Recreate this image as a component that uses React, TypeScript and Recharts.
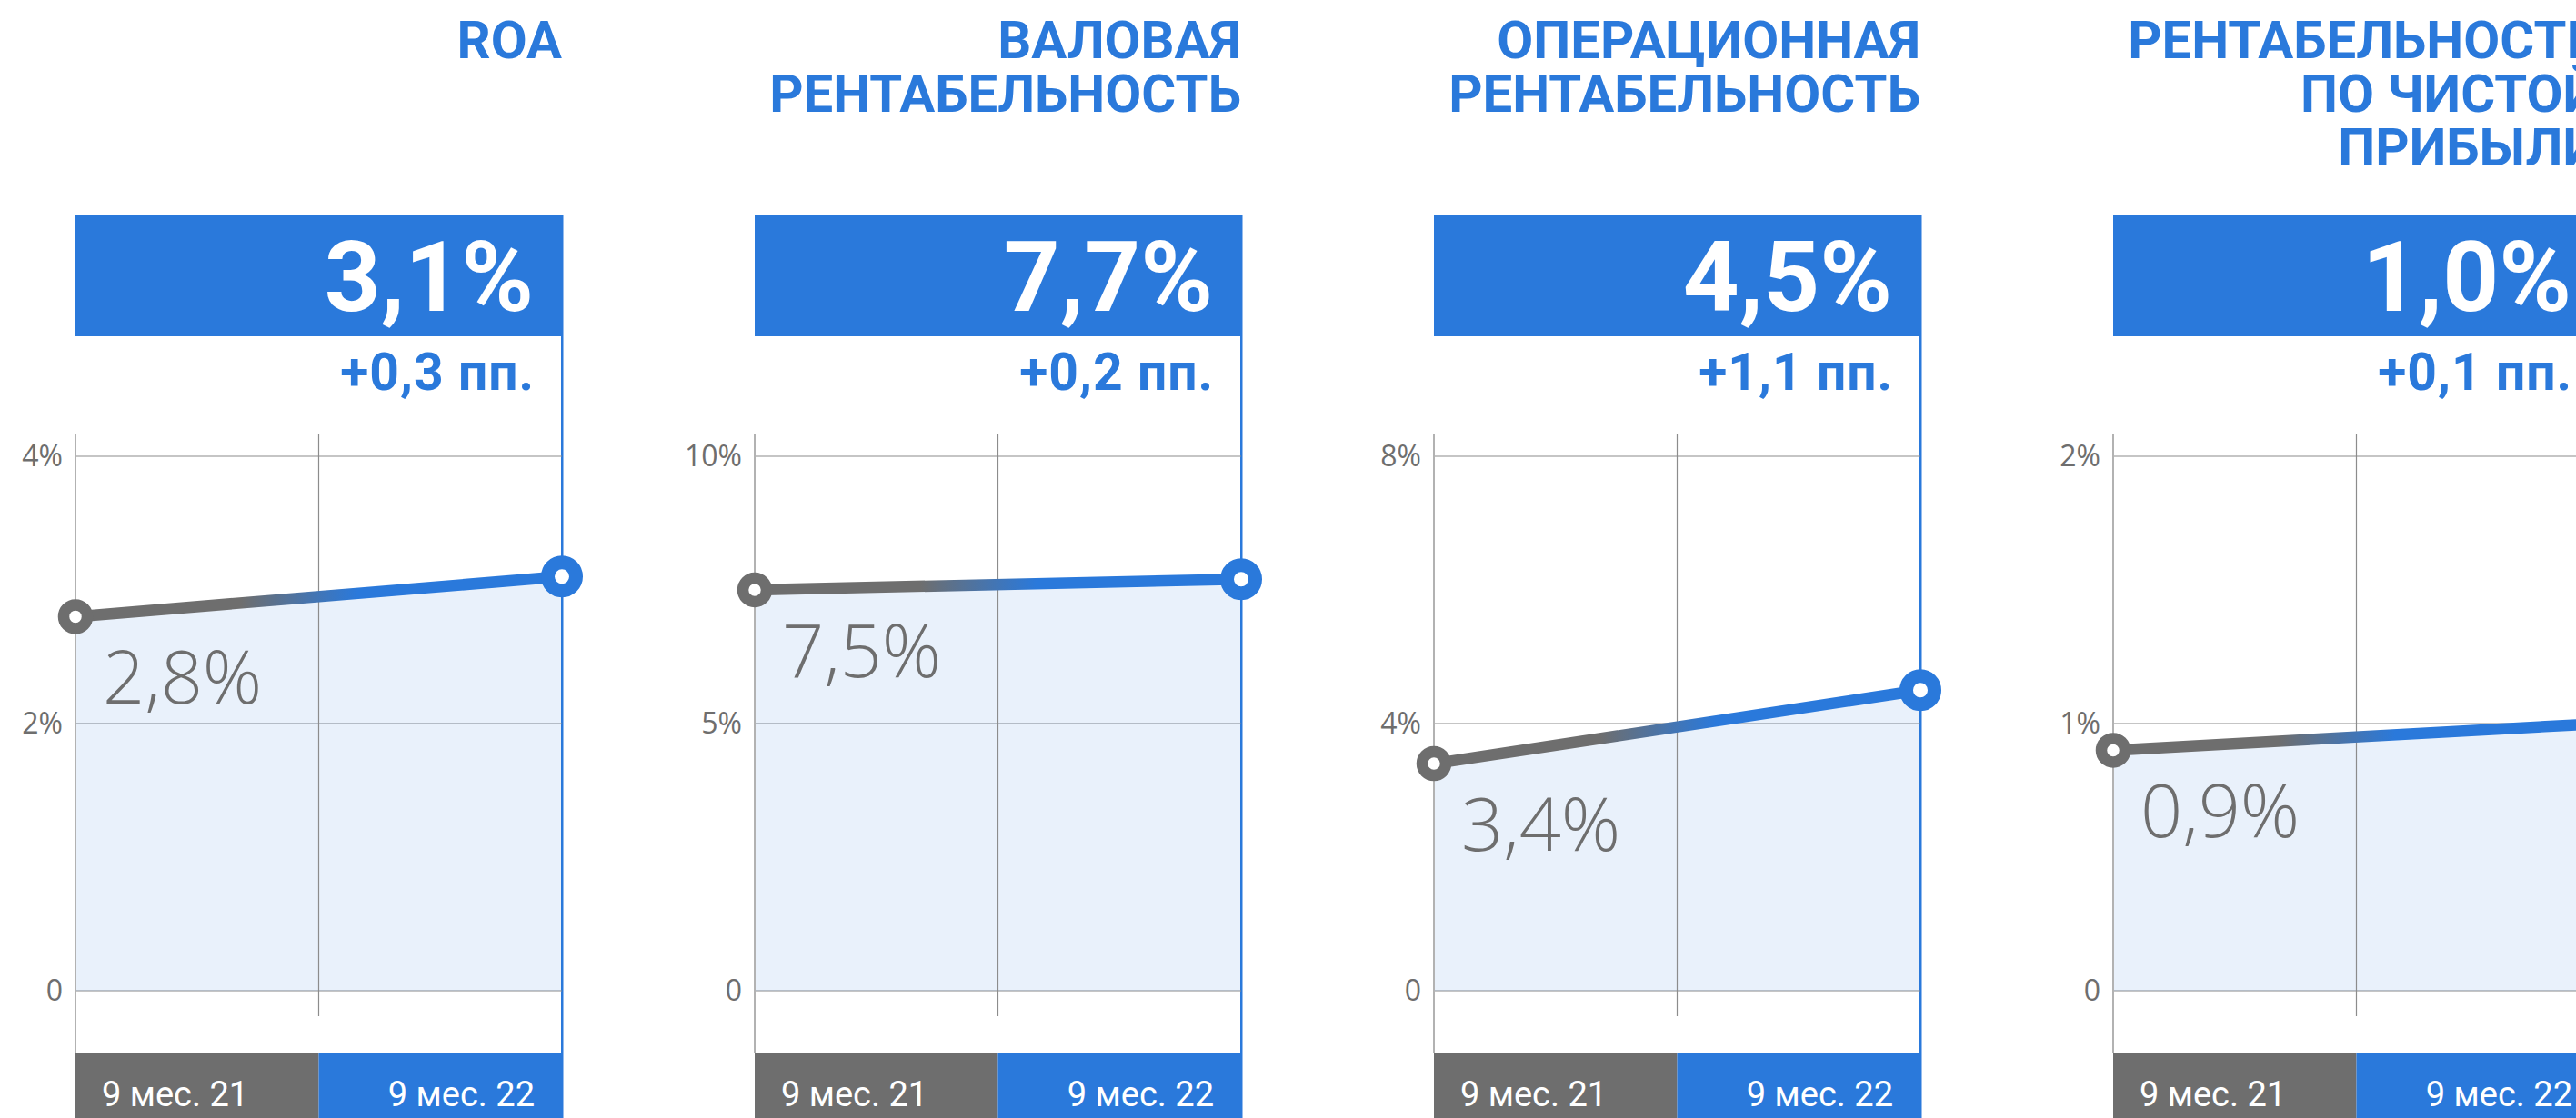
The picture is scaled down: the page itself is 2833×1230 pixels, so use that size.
import { ComposedChart, Line, Area, XAxis, YAxis, CartesianGrid, ReferenceLine } from 'recharts';

// periods on the x axis
const categories = ['9 мес. 21', '9 мес. 22'];

// panel headings
const panelTitles = [
  ['ROA'],
  ['ВАЛОВАЯ', 'РЕНТАБЕЛЬНОСТЬ'],
  ['ОПЕРАЦИОННАЯ', 'РЕНТАБЕЛЬНОСТЬ'],
  ['РЕНТАБЕЛЬНОСТЬ', 'ПО ЧИСТОЙ', 'ПРИБЫЛИ'],
];

// values, %
const roa = [2.8, 3.1];
const grossMargin = [7.5, 7.7];
const operatingMargin = [3.4, 4.5];
const netMargin = [0.9, 1.0];

// change, п.п.
const changes = [0.3, 0.2, 1.1, 0.1];

// y ticks per panel
const yTicks = [
  [0, 2, 4],
  [0, 5, 10],
  [0, 4, 8],
  [0, 1, 2],
];

const series = [roa, grossMargin, operatingMargin, netMargin];

const BLUE = '#2a79db';
const GRAY = '#6e6e6e';
const GRID = '#8c8c8c';
const AXIS = '#b2b2b2';

const PANEL_W = 747;
const H = 1230;
const PLOT_L = 83;
const PLOT_R = 618;
const PLOT_T = 477;
const PLOT_B = 1118;
const HALF = (PLOT_R - PLOT_L) / 2;

const fmt = (v: number) => v.toFixed(1).replace('.', ',');

const CategoryTick = (props: any) => {
  const { x, y, payload } = props;
  if (payload.value !== 0 && payload.value !== 2) return <g />;
  const first = payload.value === 0;
  return (
    <g>
      {first && <line x1={x} x2={x} y1={y} y2={y + 40} stroke={AXIS} strokeWidth={2} />}
      <rect x={first ? x : x - HALF} y={y + 40} width={HALF} height={90} fill={first ? GRAY : BLUE} />
      <text
        x={first ? x + 29 : x - 30}
        y={y + 99}
        textAnchor={first ? 'start' : 'end'}
        fill="#fff"
        fontSize={38}
        fontFamily="Roboto"
      >
        {first ? categories[0] : categories[1]}
      </text>
    </g>
  );
};

const renderDot = (props: any) => {
  const { cx, cy, index, payload } = props;
  if (index === 0) {
    return (
      <g key={`d${index}`}>
        <circle cx={cx} cy={cy} r={13} fill="#fff" stroke={GRAY} strokeWidth={12.5} />
        <text
          x={cx + 30}
          y={cy + 96}
          fill={GRAY}
          fontSize={81}
          fontWeight={300}
          fontFamily="Open Sans"
        >
          {`${fmt(payload.v)}%`}
        </text>
      </g>
    );
  }
  return <circle key={`d${index}`} cx={cx} cy={cy} r={15.5} fill="#fff" stroke={BLUE} strokeWidth={15} />;
};

const gridLine = (p: any) => (
  <line key={p.key} x1={p.x1} y1={p.y1} x2={p.x2} y2={p.y2} stroke={GRID} strokeWidth={1.2} />
);

const Panel = ({ idx }: { idx: number }) => {
  const values = series[idx];
  const ticks = yTicks[idx];
  const top = ticks[ticks.length - 1];
  const data = values.map((v, i) => ({ x: i * 2, v }));
  const gradId = `lineGrad${idx}`;

  return (
    <div style={{ position: 'absolute', left: idx * PANEL_W, top: 0, width: PANEL_W, height: H }}>
      <svg width={PANEL_W} height={H} style={{ position: 'absolute', left: 0, top: 0 }}>
        {panelTitles[idx].map((t, i) => (
          <text
            key={t}
            x={PLOT_R}
            y={64 + i * 59}
            textAnchor="end"
            fill={BLUE}
            fontSize={58}
            fontWeight={700}
            fontFamily="Roboto"
          >
            {t}
          </text>
        ))}
        <rect x={PLOT_L} y={237} width={PLOT_R - PLOT_L} height={133} fill={BLUE} />
        <rect x={PLOT_R - 1} y={237} width={2.5} height={H - 237} fill={BLUE} />
        <text x={587} y={342} textAnchor="end" fill="#fff" fontSize={108} fontWeight={700} fontFamily="Roboto">
          {`${fmt(values[1])}%`}
        </text>
        <text
          x={588}
          y={429}
          textAnchor="end"
          fill={BLUE}
          fontSize={57}
          fontWeight={700}
          letterSpacing={1}
          fontFamily="Roboto"
        >
          {`+${fmt(changes[idx])} пп.`}
        </text>
      </svg>
      <div style={{ position: 'absolute', left: 0, top: 0 }}>
        <ComposedChart
          width={PANEL_W}
          height={H}
          data={data}
          margin={{ top: PLOT_T, right: PANEL_W - PLOT_R, bottom: 0, left: 0 }}
        >
          <defs>
            <linearGradient id={gradId} gradientUnits="userSpaceOnUse" x1={PLOT_L} y1={0} x2={PLOT_R} y2={0}>
              <stop offset="0.34" stopColor={GRAY} />
              <stop offset="0.58" stopColor={BLUE} />
            </linearGradient>
          </defs>
          <CartesianGrid vertical={false} horizontal={gridLine} syncWithTicks />
          <XAxis
            type="number"
            dataKey="x"
            domain={[0, 2]}
            ticks={[0, 1, 2]}
            interval={0}
            axisLine={false}
            tickLine={false}
            tickSize={0}
            tickMargin={0}
            height={H - PLOT_B}
            tick={<CategoryTick />}
          />
          <YAxis
            type="number"
            domain={[-0.0476 * top, 1.0425 * top]}
            ticks={ticks}
            width={PLOT_L}
            axisLine={{ stroke: AXIS, strokeWidth: 2 }}
            tickLine={false}
            tickSize={0}
            tickMargin={14}
            tick={{ fill: GRAY, fontSize: 32, fontFamily: 'Open Sans' }}
            tickFormatter={(v: number) => (v === 0 ? '0' : `${v}%`)}
          />
          <ReferenceLine x={1} stroke={GRID} strokeWidth={1.2} />
          <Area
            type="linear"
            dataKey="v"
            stroke="none"
            fill={BLUE}
            fillOpacity={0.1}
            isAnimationActive={false}
          />
          <Line
            type="linear"
            dataKey="v"
            stroke={`url(#${gradId})`}
            strokeWidth={12.5}
            dot={renderDot}
            activeDot={false}
            isAnimationActive={false}
          />
        </ComposedChart>
      </div>
    </div>
  );
};

const App = () => {
  return (
    <div
      style={{
        position: 'absolute',
        left: 0,
        top: 0,
        width: 2833,
        height: H,
        overflow: 'hidden',
        background: '#fff',
      }}
    >
      {series.map((_, i) => (
        <Panel key={i} idx={i} />
      ))}
    </div>
  );
};

export default App;
